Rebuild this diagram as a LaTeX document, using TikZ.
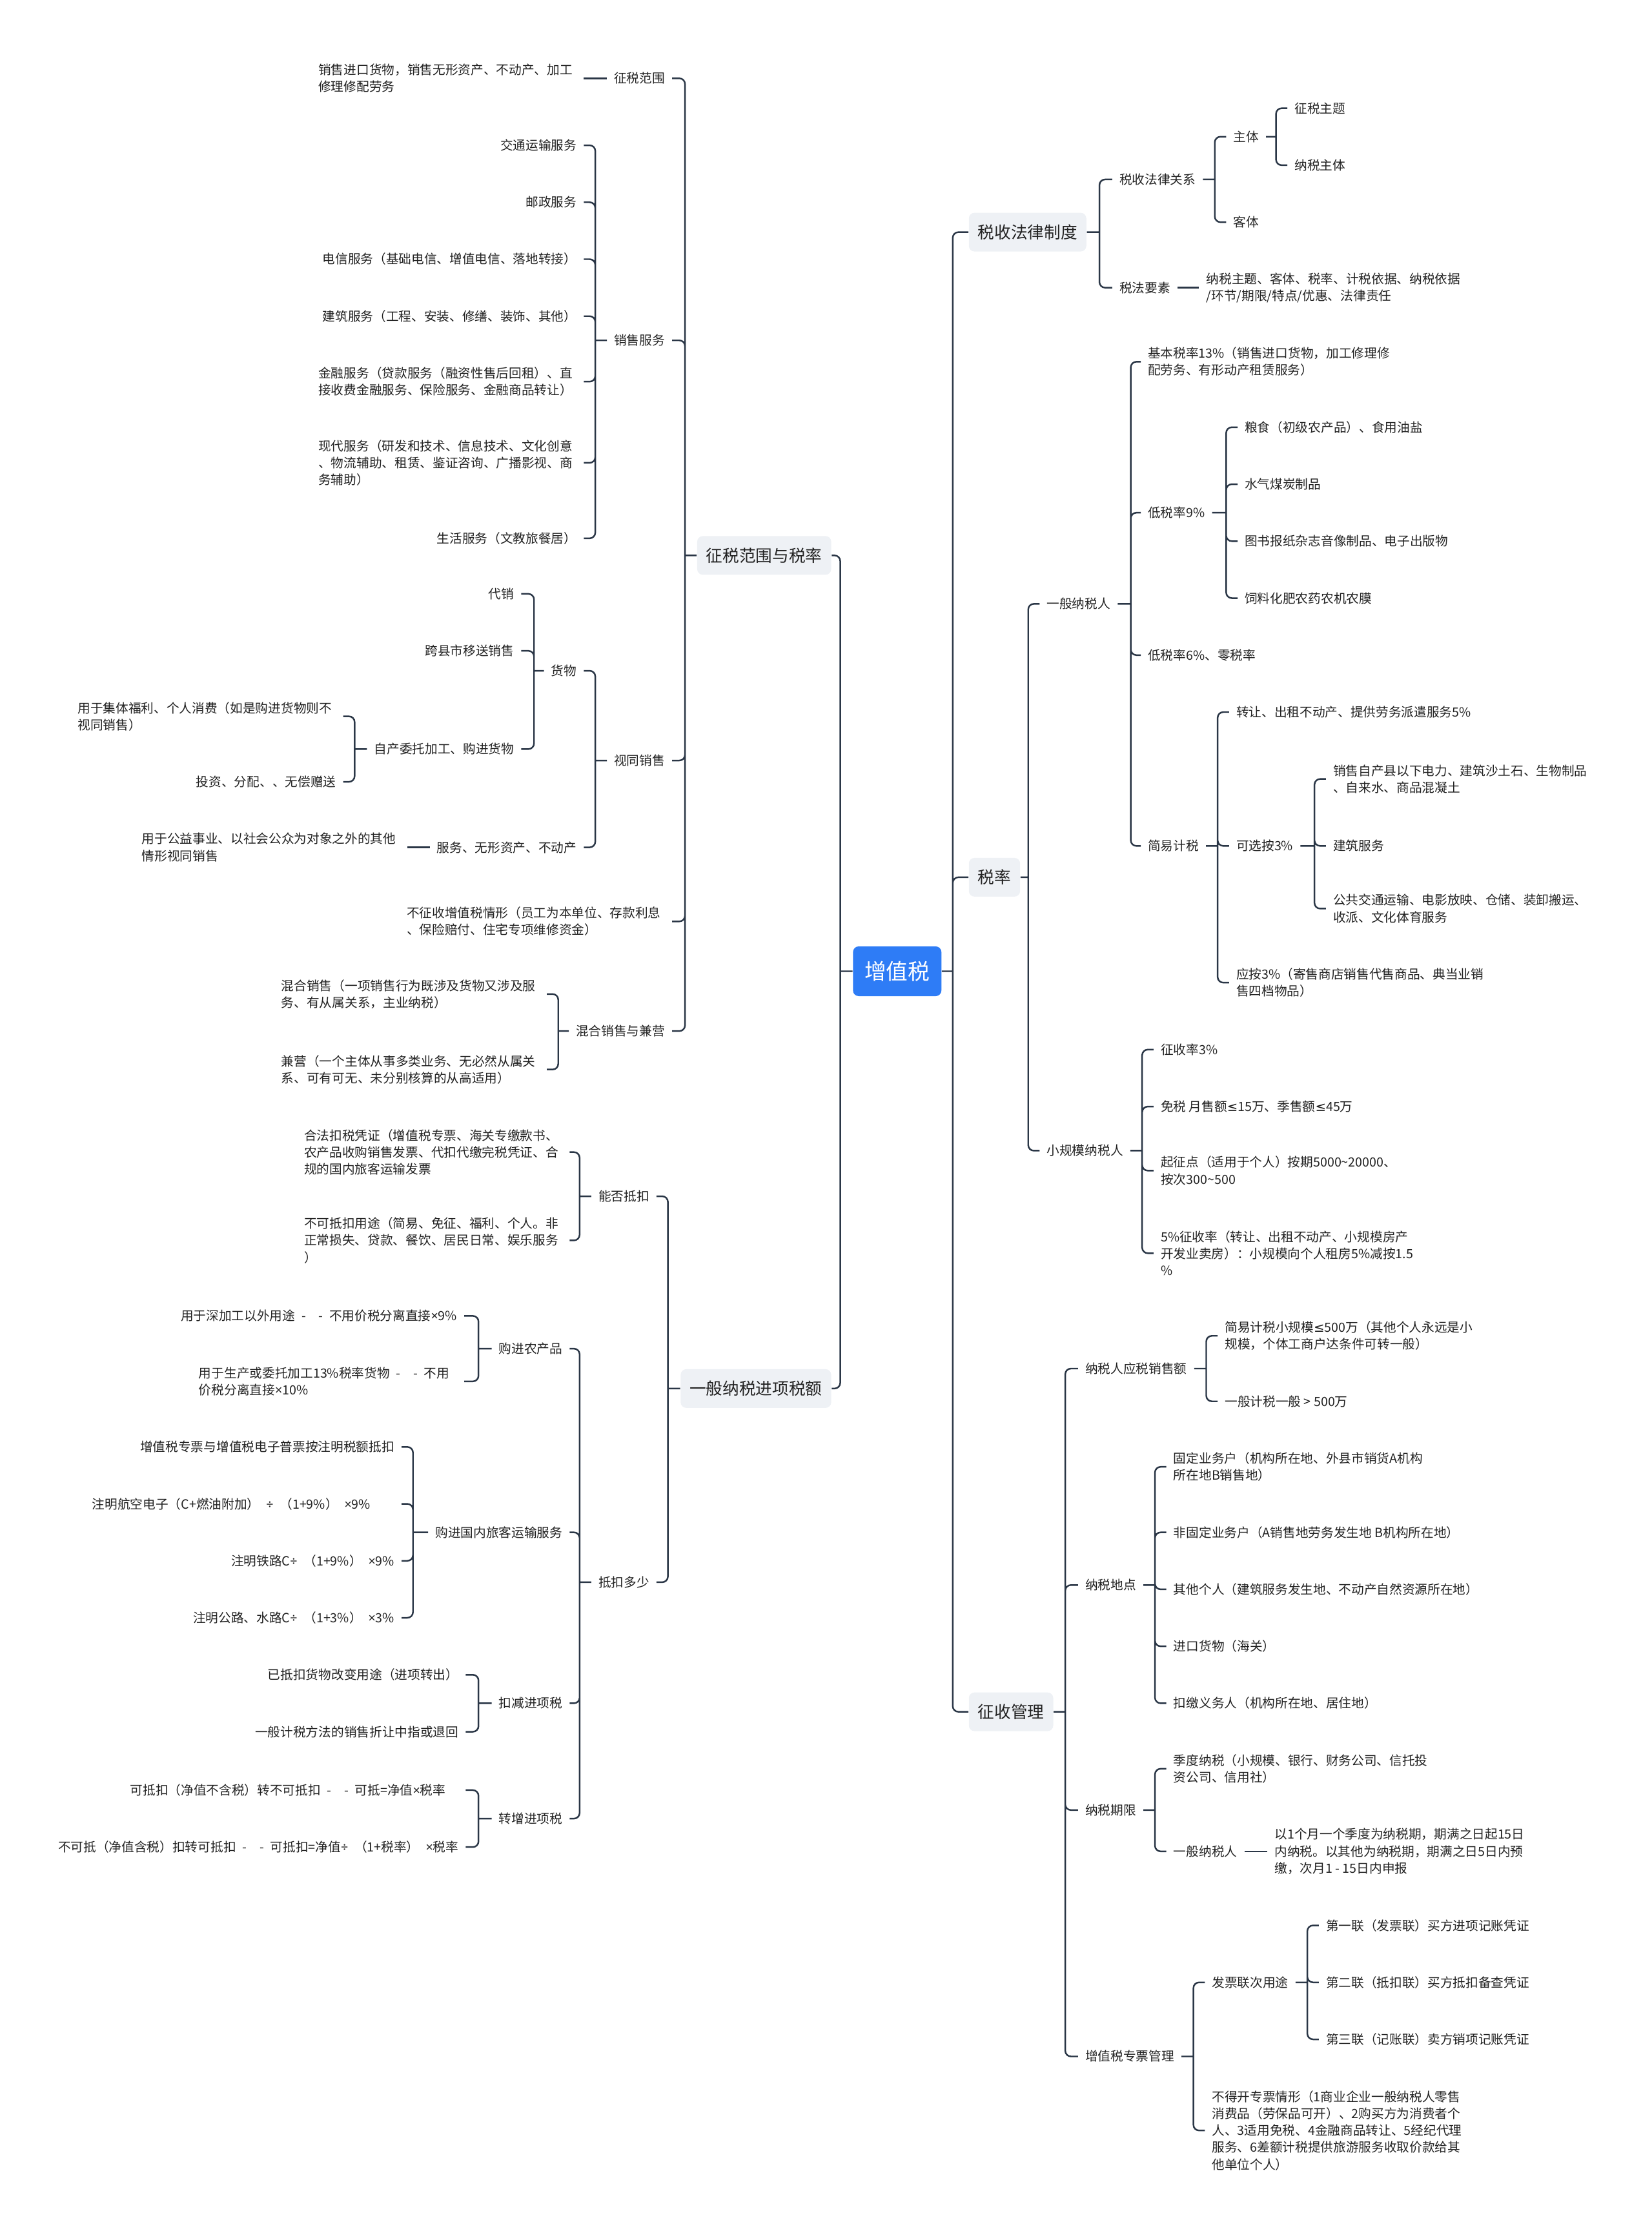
\documentclass[tikz,border=0pt]{standalone}
\usepackage{fontspec}
\setmainfont{Noto Sans CJK SC}
\newfontfamily\latinfont{Noto Sans}
\newfontfamily\signfont{DejaVu Sans}
\usepackage{xcolor}
\usepackage{tikz}
\definecolor{C_LINE}{HTML}{2A3646}
\definecolor{C_ROOT}{HTML}{2E7CF6}
\definecolor{C_MAIN}{HTML}{EEF1F5}
\definecolor{C_TEXT}{HTML}{222222}
% narrow signs taken from the Latin faces
\newcommand{\xmul}{{\latinfont ×}}
\newcommand{\xdiv}{{\latinfont ÷}}
\newcommand{\xle}{{\signfont ≤}}
\newcommand{\xdash}{\enspace-\enspace\enspace-\enspace}
\tikzset{
  %% -- centre topic --
  MM/root/.style={
    fill=C_ROOT, text=white, rounded corners=2.5pt,
    minimum width=1.37cm, minimum height=0.77cm, inner sep=0pt,
    font=\fontsize{9.6pt}{11pt}\selectfont
  },
  %% -- first level topics --
  MM/main/.style={
    fill=C_MAIN, text=C_TEXT, rounded corners=2.5pt,
    minimum height=0.6cm, inner xsep=4pt, inner ysep=0pt,
    font=\fontsize{7.3pt}{9pt}\selectfont
  },
  %% -- plain text topics --
  MM/leaf/.style={
    text=C_TEXT, inner xsep=3pt, inner ysep=1.5pt, align=left,
    font=\fontsize{5.6pt}{7.45pt}\selectfont
  },
  MM/leafL/.style={MM/leaf, anchor=east},
  MM/leafR/.style={MM/leaf, anchor=west},
  %% -- wrapped text block (left side) --
  MM/wrap/.style={text width=4cm},
  %% -- connector --
  MM/link/.style={draw=C_LINE, line width=0.7pt, rounded corners=2.5pt},
}

\begin{document}
\begin{tikzpicture}[x=0.02207cm, y=-0.02207cm]
\useasboundingbox (0,0) rectangle (1160,1568);

%% ── Centre and first level ───────────────────────────────────
\node[MM/root] (root) at (630,682) {增值税};
\coordinate (root-jl) at (590,682);
\coordinate (root-jr) at (669,682);

\node[MM/main, anchor=east] (L1) at (584,390) {征税范围与税率};
\node[MM/main, anchor=east] (L2) at (584,975) {一般纳税进项税额};
\node[MM/main, anchor=west] (R1) at (680,163) {税收法律制度};
\node[MM/main, anchor=west] (R2) at (680,616) {税率};
\node[MM/main, anchor=west] (R3) at (680,1202) {征收管理};

\draw[MM/link] (root.west) -- (root-jl)
  (root-jl) |- (L1.east) (root-jl) |- (L2.east);
\draw[MM/link] (root.east) -- (root-jr)
  (root-jr) |- (R1.west) (root-jr) |- (R2.west) (root-jr) |- (R3.west);

%% ── 征税范围与税率 ───────────────────────────────────────────
\coordinate (L1-j) at (481,390);
\node[MM/leafL] (L1a) at (472,55) {征税范围};
\node[MM/leafL] (L1b) at (472,239) {销售服务};
\node[MM/leafL] (L1c) at (472,534) {视同销售};
\node[MM/leafL, MM/wrap] (L1d) at (472,647)
  {不征收增值税情形（员工为本单位、存款利息\\、保险赔付、住宅专项维修资金）};
\node[MM/leafL] (L1e) at (472,724) {混合销售与兼营};
\draw[MM/link] (L1.west) -- (L1-j)
  (L1-j) |- (L1a.east) (L1-j) |- (L1b.east) (L1-j) |- (L1c.east)
  (L1-j) |- (L1d.east) (L1-j) |- (L1e.east);

%% 征税范围
\node[MM/leafL, MM/wrap] (L1a1) at (410,55)
  {销售进口货物，销售无形资产、不动产、加工\\修理修配劳务};
\draw[MM/link] (L1a.west) -- (L1a1.east);

%% 销售服务
\coordinate (L1b-j) at (418,239);
\node[MM/leafL] (L1b1) at (410,102) {交通运输服务};
\node[MM/leafL] (L1b2) at (410,142) {邮政服务};
\node[MM/leafL] (L1b3) at (410,182) {电信服务（基础电信、增值电信、落地转接）};
\node[MM/leafL] (L1b4) at (410,222) {建筑服务（工程、安装、修缮、装饰、其他）};
\node[MM/leafL, MM/wrap] (L1b5) at (410,268)
  {金融服务（贷款服务（融资性售后回租）、直\\接收费金融服务、保险服务、金融商品转让）};
\node[MM/leafL, MM/wrap] (L1b6) at (410,325)
  {现代服务（研发和技术、信息技术、文化创意\\、物流辅助、租赁、鉴证咨询、广播影视、商\\务辅助）};
\node[MM/leafL] (L1b7) at (410,378) {生活服务（文教旅餐居）};
\draw[MM/link] (L1b.west) -- (L1b-j)
  (L1b-j) |- (L1b1.east) (L1b-j) |- (L1b2.east) (L1b-j) |- (L1b3.east)
  (L1b-j) |- (L1b4.east) (L1b-j) |- (L1b5.east) (L1b-j) |- (L1b6.east)
  (L1b-j) |- (L1b7.east);

%% 视同销售
\coordinate (L1c-j) at (418,534);
\node[MM/leafL] (L1c1) at (410,471) {货物};
\node[MM/leafL] (L1c2) at (410,595) {服务、无形资产、不动产};
\draw[MM/link] (L1c.west) -- (L1c-j)
  (L1c-j) |- (L1c1.east) (L1c-j) |- (L1c2.east);

\coordinate (L1c1-j) at (375,471);
\node[MM/leafL] (L1c1a) at (366,417) {代销};
\node[MM/leafL] (L1c1b) at (366,457) {跨县市移送销售};
\node[MM/leafL] (L1c1c) at (366,526) {自产委托加工、购进货物};
\draw[MM/link] (L1c1.west) -- (L1c1-j)
  (L1c1-j) |- (L1c1a.east) (L1c1-j) |- (L1c1b.east) (L1c1-j) |- (L1c1c.east);

\coordinate (L1c1c-j) at (249,526);
\node[MM/leafL, MM/wrap] (L1c1c1) at (241,503)
  {用于集体福利、个人消费（如是购进货物则不\\视同销售）};
\node[MM/leafL] (L1c1c2) at (241,549) {投资、分配、、无偿赠送};
\draw[MM/link] (L1c1c.west) -- (L1c1c-j)
  (L1c1c-j) |- (L1c1c1.east) (L1c1c-j) |- (L1c1c2.east);

\node[MM/leafL, MM/wrap] (L1c2a) at (286,595)
  {用于公益事业、以社会公众为对象之外的其他\\情形视同销售};
\draw[MM/link] (L1c2.west) -- (L1c2a.east);

%% 混合销售与兼营
\coordinate (L1e-j) at (392,724);
\node[MM/leafL, MM/wrap] (L1e1) at (384,698)
  {混合销售（一项销售行为既涉及货物又涉及服\\务、有从属关系，主业纳税）};
\node[MM/leafL, MM/wrap] (L1e2) at (384,751)
  {兼营（一个主体从事多类业务、无必然从属关\\系、可有可无、未分别核算的从高适用）};
\draw[MM/link] (L1e.west) -- (L1e-j)
  (L1e-j) |- (L1e1.east) (L1e-j) |- (L1e2.east);

%% ── 一般纳税进项税额 ─────────────────────────────────────────
\coordinate (L2-j) at (469,975);
\node[MM/leafL] (L2a) at (461,840) {能否抵扣};
\node[MM/leafL] (L2b) at (461,1111) {抵扣多少};
\draw[MM/link] (L2.west) -- (L2-j)
  (L2-j) |- (L2a.east) (L2-j) |- (L2b.east);

%% 能否抵扣
\coordinate (L2a-j) at (407,840);
\node[MM/leafL, MM/wrap] (L2a1) at (400,809)
  {合法扣税凭证（增值税专票、海关专缴款书、\\农产品收购销售发票、代扣代缴完税凭证、合\\规的国内旅客运输发票};
\node[MM/leafL, MM/wrap] (L2a2) at (400,871)
  {不可抵扣用途（简易、免征、福利、个人。非\\正常损失、贷款、餐饮、居民日常、娱乐服务\\）};
\draw[MM/link] (L2a.west) -- (L2a-j)
  (L2a-j) |- (L2a1.east) (L2a-j) |- (L2a2.east);

%% 抵扣多少
\coordinate (L2b-j) at (407,1111);
\node[MM/leafL] (L2b1) at (400,947) {购进农产品};
\node[MM/leafL] (L2b2) at (400,1076) {购进国内旅客运输服务};
\node[MM/leafL] (L2b3) at (400,1196) {扣减进项税};
\node[MM/leafL] (L2b4) at (400,1277) {转增进项税};
\draw[MM/link] (L2b.west) -- (L2b-j)
  (L2b-j) |- (L2b1.east) (L2b-j) |- (L2b2.east)
  (L2b-j) |- (L2b3.east) (L2b-j) |- (L2b4.east);

\coordinate (L2b1-j) at (336,947);
\node[MM/leafL] (L2b1a) at (326,924) {用于深加工以外用途\xdash 不用价税分离直接\xmul9\%};
\node[MM/leafL, MM/wrap] (L2b1b) at (326,970)
  {用于生产或委托加工13\%税率货物\xdash 不用\\价税分离直接\xmul10\%};
\draw[MM/link] (L2b1.west) -- (L2b1-j)
  (L2b1-j) |- (L2b1a.east) (L2b1-j) |- (L2b1b.east);

\coordinate (L2b2-j) at (290,1076);
\node[MM/leafL] (L2b2a) at (282,1016) {增值税专票与增值税电子普票按注明税额抵扣};
\node[MM/leafL] (L2b2b) at (282,1056)
  {注明航空电子（C+燃油附加）\enspace\xdiv\enspace（1+9\%）\enspace\xmul9\%\hspace{0.37cm}};
\node[MM/leafL] (L2b2c) at (282,1096) {注明铁路C\xdiv\enspace（1+9\%）\enspace\xmul9\%};
\node[MM/leafL] (L2b2d) at (282,1136) {注明公路、水路C\xdiv\enspace（1+3\%）\enspace\xmul3\%};
\draw[MM/link] (L2b2.west) -- (L2b2-j)
  (L2b2-j) |- (L2b2a.east) (L2b2-j) |- (L2b2b.east)
  (L2b2-j) |- (L2b2c.east) (L2b2-j) |- (L2b2d.east);

\coordinate (L2b3-j) at (336,1196);
\node[MM/leafL] (L2b3a) at (327,1176) {已抵扣货物改变用途（进项转出）};
\node[MM/leafL] (L2b3b) at (327,1216) {一般计税方法的销售折让中指或退回};
\draw[MM/link] (L2b3.west) -- (L2b3-j)
  (L2b3-j) |- (L2b3a.east) (L2b3-j) |- (L2b3b.east);

\coordinate (L2b4-j) at (336,1277);
\node[MM/leafL] (L2b4a) at (327,1257)
  {可抵扣（净值不含税）转不可抵扣\xdash 可抵=净值\xmul 税率\hspace{0.2cm}};
\node[MM/leafL] (L2b4b) at (327,1297)
  {不可抵（净值含税）扣转可抵扣\xdash 可抵扣=净值\xdiv\enspace（1+税率）\enspace\xmul 税率};
\draw[MM/link] (L2b4.west) -- (L2b4-j)
  (L2b4-j) |- (L2b4a.east) (L2b4-j) |- (L2b4b.east);

%% ── 税收法律制度 ─────────────────────────────────────────────
\coordinate (R1-j) at (772,163);
\node[MM/leafR] (R1a) at (781,126) {税收法律关系};
\node[MM/leafR] (R1b) at (781,202) {税法要素};
\draw[MM/link] (R1.east) -- (R1-j)
  (R1-j) |- (R1a.west) (R1-j) |- (R1b.west);

\coordinate (R1a-j) at (853,126);
\node[MM/leafR] (R1a1) at (861,96) {主体};
\node[MM/leafR] (R1a2) at (861,156) {客体};
\draw[MM/link] (R1a.east) -- (R1a-j)
  (R1a-j) |- (R1a1.west) (R1a-j) |- (R1a2.west);

\coordinate (R1a1-j) at (896,96);
\node[MM/leafR] (R1a1a) at (904,76) {征税主题};
\node[MM/leafR] (R1a1b) at (904,116) {纳税主体};
\draw[MM/link] (R1a1.east) -- (R1a1-j)
  (R1a1-j) |- (R1a1a.west) (R1a1-j) |- (R1a1b.west);

\node[MM/leafR] (R1b1) at (842,202)
  {纳税主题、客体、税率、计税依据、纳税依据\\/环节/期限/特点/优惠、法律责任};
\draw[MM/link] (R1b.east) -- (R1b1.west);

%% ── 税率 ─────────────────────────────────────────────────────
\coordinate (R2-j) at (722,616);
\node[MM/leafR] (R2a) at (730,424) {一般纳税人};
\node[MM/leafR] (R2b) at (730,808) {小规模纳税人};
\draw[MM/link] (R2.east) -- (R2-j)
  (R2-j) |- (R2a.west) (R2-j) |- (R2b.west);

%% 一般纳税人
\coordinate (R2a-j) at (794,424);
\node[MM/leafR] (R2a1) at (801,254)
  {基本税率13\%（销售进口货物，加工修理修\\配劳务、有形动产租赁服务）};
\node[MM/leafR] (R2a2) at (801,360) {低税率9\%};
\node[MM/leafR] (R2a3) at (801,460) {低税率6\%、零税率};
\node[MM/leafR] (R2a4) at (801,594) {简易计税};
\draw[MM/link] (R2a.east) -- (R2a-j)
  (R2a-j) |- (R2a1.west) (R2a-j) |- (R2a2.west)
  (R2a-j) |- (R2a3.west) (R2a-j) |- (R2a4.west);

\coordinate (R2a2-j) at (861,360);
\node[MM/leafR] (R2a2a) at (869,300) {粮食（初级农产品）、食用油盐};
\node[MM/leafR] (R2a2b) at (869,340) {水气煤炭制品};
\node[MM/leafR] (R2a2c) at (869,380) {图书报纸杂志音像制品、电子出版物};
\node[MM/leafR] (R2a2d) at (869,420) {饲料化肥农药农机农膜};
\draw[MM/link] (R2a2.east) -- (R2a2-j)
  (R2a2-j) |- (R2a2a.west) (R2a2-j) |- (R2a2b.west)
  (R2a2-j) |- (R2a2c.west) (R2a2-j) |- (R2a2d.west);

\coordinate (R2a4-j) at (855,594);
\node[MM/leafR] (R2a4a) at (863,500) {转让、出租不动产、提供劳务派遣服务5\%};
\node[MM/leafR] (R2a4b) at (863,594) {可选按3\%};
\node[MM/leafR] (R2a4c) at (863,690)
  {应按3\%（寄售商店销售代售商品、典当业销\\售四档物品）};
\draw[MM/link] (R2a4.east) -- (R2a4-j)
  (R2a4-j) |- (R2a4a.west) (R2a4-j) |- (R2a4b.west) (R2a4-j) |- (R2a4c.west);

\coordinate (R2a4b-j) at (923,594);
\node[MM/leafR] (R2a4b1) at (931,547)
  {销售自产县以下电力、建筑沙土石、生物制品\\、自来水、商品混凝土};
\node[MM/leafR] (R2a4b2) at (931,594) {建筑服务};
\node[MM/leafR] (R2a4b3) at (931,638)
  {公共交通运输、电影放映、仓储、装卸搬运、\\收派、文化体育服务};
\draw[MM/link] (R2a4b.east) -- (R2a4b-j)
  (R2a4b-j) |- (R2a4b1.west) (R2a4b-j) |- (R2a4b2.west) (R2a4b-j) |- (R2a4b3.west);

%% 小规模纳税人
\coordinate (R2b-j) at (802,808);
\node[MM/leafR] (R2b1) at (810,737) {征收率3\%};
\node[MM/leafR] (R2b2) at (810,777) {免税 月售额\xle15万、季售额\xle45万};
\node[MM/leafR] (R2b3) at (810,822)
  {起征点（适用于个人）按期5000\textasciitilde20000、\\按次300\textasciitilde500};
\node[MM/leafR] (R2b4) at (810,880)
  {5\%征收率（转让、出租不动产、小规模房产\\开发业卖房）：小规模向个人租房5\%减按1.5\\\%};
\draw[MM/link] (R2b.east) -- (R2b-j)
  (R2b-j) |- (R2b1.west) (R2b-j) |- (R2b2.west)
  (R2b-j) |- (R2b3.west) (R2b-j) |- (R2b4.west);

%% ── 征收管理 ─────────────────────────────────────────────────
\coordinate (R3-j) at (748,1202);
\node[MM/leafR] (R3a) at (757,961) {纳税人应税销售额};
\node[MM/leafR] (R3b) at (757,1113) {纳税地点};
\node[MM/leafR] (R3c) at (757,1271) {纳税期限};
\node[MM/leafR] (R3d) at (757,1444) {增值税专票管理};
\draw[MM/link] (R3.east) -- (R3-j)
  (R3-j) |- (R3a.west) (R3-j) |- (R3b.west)
  (R3-j) |- (R3c.west) (R3-j) |- (R3d.west);

%% 纳税人应税销售额
\coordinate (R3a-j) at (847,961);
\node[MM/leafR] (R3a1) at (855,938)
  {简易计税小规模\xle500万（其他个人永远是小\\规模，个体工商户达条件可转一般）};
\node[MM/leafR] (R3a2) at (855,984) {一般计税一般 > 500万};
\draw[MM/link] (R3a.east) -- (R3a-j)
  (R3a-j) |- (R3a1.west) (R3a-j) |- (R3a2.west);

%% 纳税地点
\coordinate (R3b-j) at (811,1113);
\node[MM/leafR] (R3b1) at (819,1030)
  {固定业务户（机构所在地、外县市销货A机构\\所在地B销售地）};
\node[MM/leafR] (R3b2) at (819,1076) {非固定业务户（A销售地劳务发生地 B机构所在地）};
\node[MM/leafR] (R3b3) at (819,1116) {其他个人（建筑服务发生地、不动产自然资源所在地）};
\node[MM/leafR] (R3b4) at (819,1156) {进口货物（海关）};
\node[MM/leafR] (R3b5) at (819,1196) {扣缴义务人（机构所在地、居住地）};
\draw[MM/link] (R3b.east) -- (R3b-j)
  (R3b-j) |- (R3b1.west) (R3b-j) |- (R3b2.west) (R3b-j) |- (R3b3.west)
  (R3b-j) |- (R3b4.west) (R3b-j) |- (R3b5.west);

%% 纳税期限
\coordinate (R3c-j) at (811,1271);
\node[MM/leafR] (R3c1) at (819,1242)
  {季度纳税（小规模、银行、财务公司、信托投\\资公司、信用社）};
\node[MM/leafR] (R3c2) at (819,1300) {一般纳税人};
\draw[MM/link] (R3c.east) -- (R3c-j)
  (R3c-j) |- (R3c1.west) (R3c-j) |- (R3c2.west);

\node[MM/leafR] (R3c2a) at (890,1300)
  {以1个月一个季度为纳税期，期满之日起15日\\内纳税。以其他为纳税期，期满之日5日内预\\缴，次月1 - 15日内申报};
\draw[MM/link] (R3c2.east) -- (R3c2a.west);

%% 增值税专票管理
\coordinate (R3d-j) at (838,1444);
\node[MM/leafR] (R3d1) at (846,1392) {发票联次用途};
\node[MM/leafR] (R3d2) at (846,1496)
  {不得开专票情形（1商业企业一般纳税人零售\\消费品（劳保品可开）、2购买方为消费者个\\人、3适用免税、4金融商品转让、5经纪代理\\服务、6差额计税提供旅游服务收取价款给其\\他单位个人）};
\draw[MM/link] (R3d.east) -- (R3d-j)
  (R3d-j) |- (R3d1.west) (R3d-j) |- (R3d2.west);

\coordinate (R3d1-j) at (918,1392);
\node[MM/leafR] (R3d1a) at (926,1352) {第一联（发票联）买方进项记账凭证};
\node[MM/leafR] (R3d1b) at (926,1392) {第二联（抵扣联）买方抵扣备查凭证};
\node[MM/leafR] (R3d1c) at (926,1432) {第三联（记账联）卖方销项记账凭证};
\draw[MM/link] (R3d1.east) -- (R3d1-j)
  (R3d1-j) |- (R3d1a.west) (R3d1-j) |- (R3d1b.west) (R3d1-j) |- (R3d1c.west);

\end{tikzpicture}
\end{document}
